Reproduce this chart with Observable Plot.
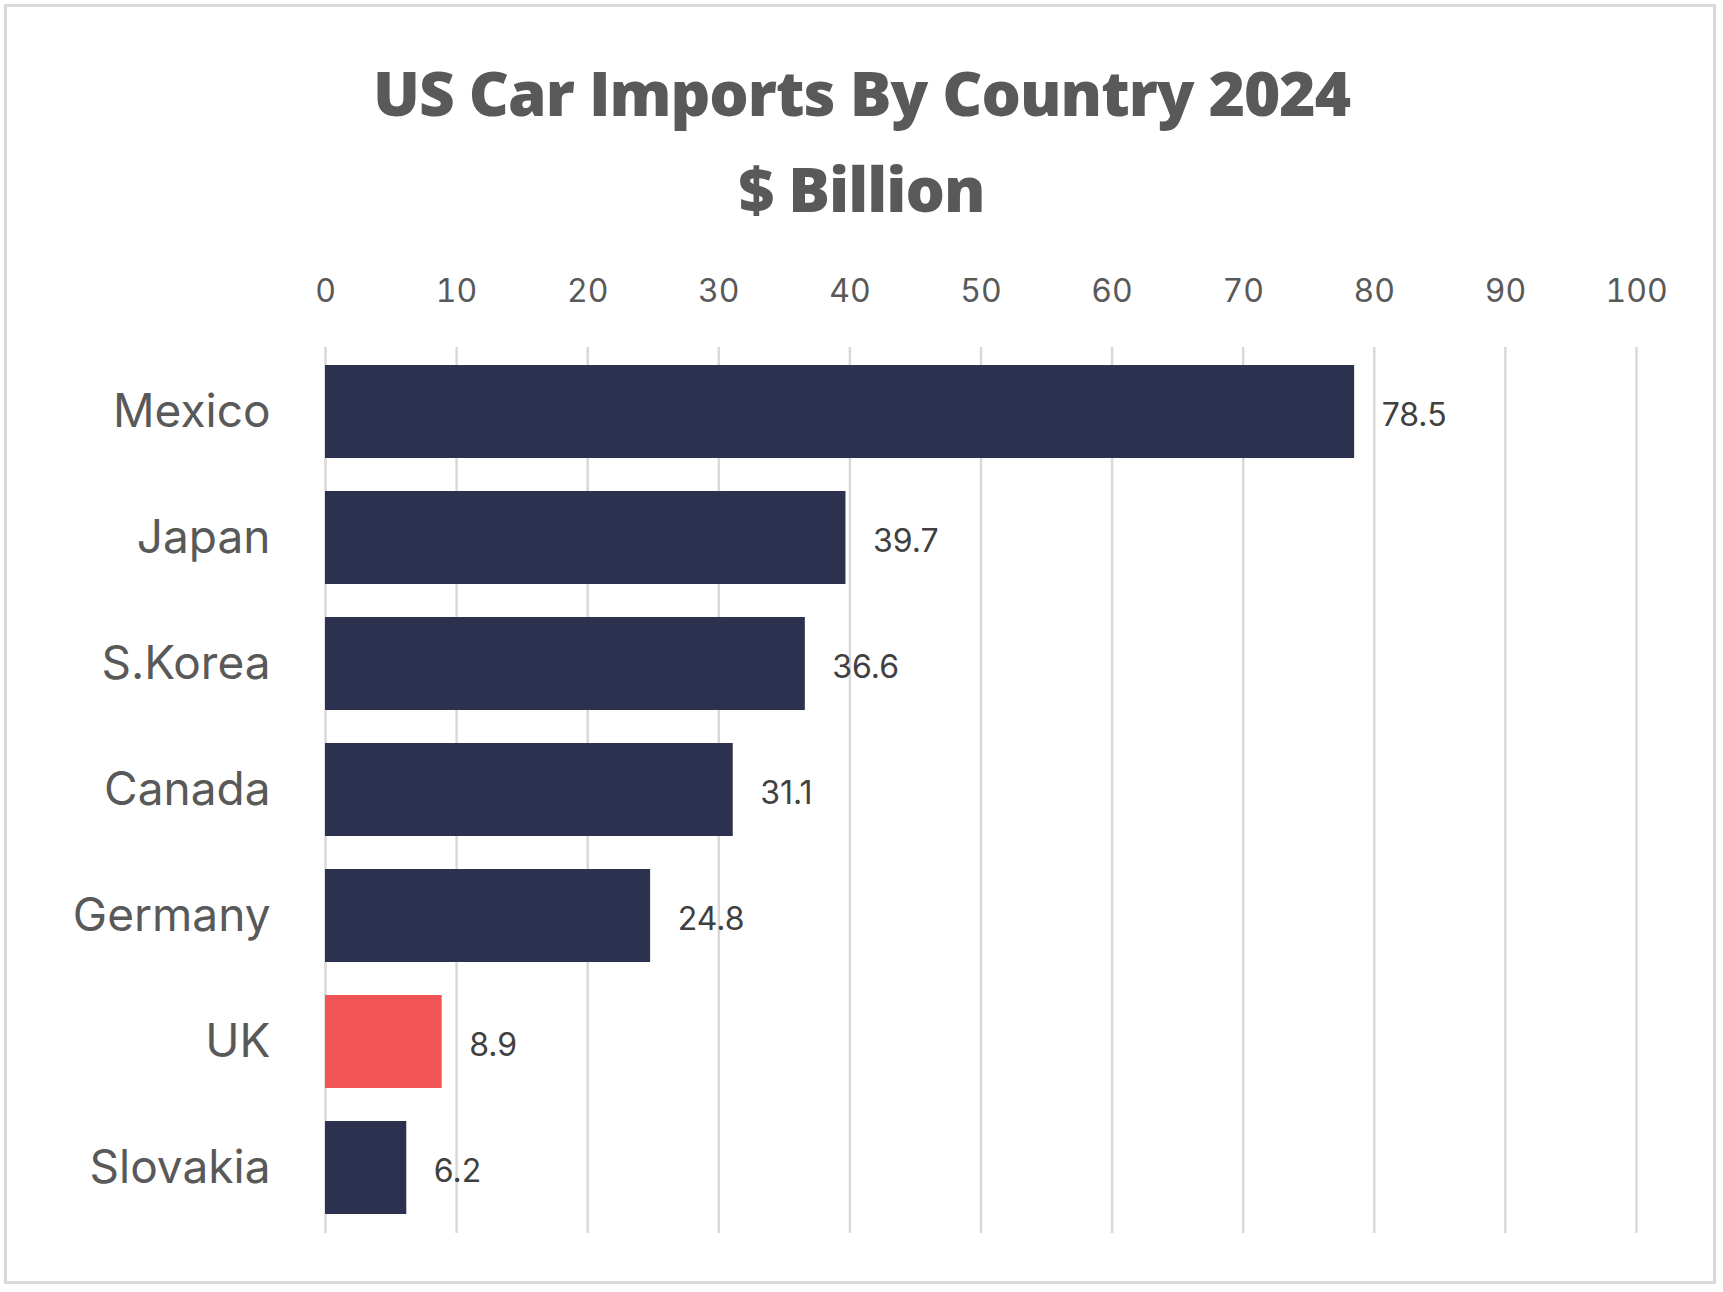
<!DOCTYPE html>
<html><head><meta charset="utf-8">
<script src="https://cdn.jsdelivr.net/npm/d3@7"></script>
<script src="https://cdn.jsdelivr.net/npm/@observablehq/plot@0.6"></script>
<style>
html,body{margin:0;padding:0;background:#fff;}
#wrap{position:relative;width:1723px;height:1292px;}
#frame{position:absolute;left:4px;top:4px;width:1712px;height:1280px;border:3px solid #d9d9d9;box-sizing:border-box;}
.t{position:absolute;left:0;width:1723px;text-align:center;font-family:"Open Sans",sans-serif;font-weight:800;color:#595959;letter-spacing:-1px;}
#chart{position:absolute;left:0;top:0;}
</style></head>
<body><div id="wrap"><div id="frame"></div>
<div class="t" style="top:50px;font-size:62px;">US Car Imports By Country 2024</div>
<div class="t" style="top:146px;font-size:62px;">$ Billion</div>
<div id="chart"></div></div>
<script>
const countries = ["Mexico","Japan","S.Korea","Canada","Germany","UK","Slovakia"];
const values = [78.5,39.7,36.6,31.1,24.8,8.9,6.2];
const highlight = "UK";
const ticks = [0,10,20,30,40,50,60,70,80,90,100];
const data = countries.map((c,i)=>({country:c,value:values[i]}));
const plot = Plot.plot({
  width:1723, height:1292,
  marginTop:347, marginBottom:59, marginLeft:325, marginRight:87,
  style:{fontFamily:"Inter, sans-serif", background:"transparent"},
  x:{domain:[0,100]},
  y:{domain:countries, paddingInner:0.26, paddingOuter:0.13},
  marks:[
    Plot.gridX(ticks,{stroke:"#d9d9d9",strokeOpacity:1,strokeWidth:2.5}),
    Plot.barX(data,{y:"country",x:"value",fill:d=>d.country===highlight?"#f05454":"#2c3150"}),
    Plot.text(data,{y:"country",x:"value",text:d=>d.value.toFixed(1),dx:27,dy:4,textAnchor:"start",fontSize:32,fill:"#404040"}),
    Plot.axisX({anchor:"top",ticks,tickSize:0,tickPadding:46,fontSize:32,color:"#595959",label:null}),
    Plot.axisY({tickSize:0,tickPadding:55,fontSize:46,color:"#595959",label:null})
  ]
});
document.getElementById("chart").append(plot);
</script></body></html>
